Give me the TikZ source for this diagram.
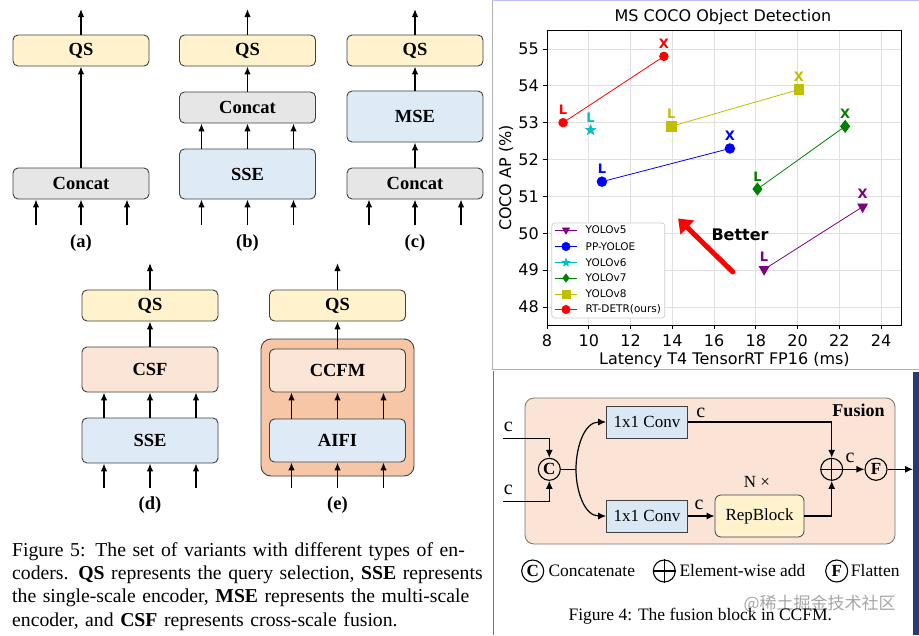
\documentclass[tikz,border=0pt]{standalone}
\usepackage{fontspec}
\setmainfont{Liberation Serif}
\newfontfamily\plotfont{DejaVu Sans}
\newfontfamily\cjkfont{Noto Sans CJK SC}
\usetikzlibrary{arrows.meta,positioning,calc,plotmarks}

\definecolor{qsfill}{HTML}{FFF2CC}
\definecolor{catfill}{HTML}{E7E6E6}
\definecolor{encfill}{HTML}{DEEBF7}
\definecolor{csffill}{HTML}{FBE5D6}
\definecolor{ccfmout}{HTML}{F6C6A6}
\definecolor{edge}{HTML}{404040}
\definecolor{convfill}{HTML}{DAE8F5}
\definecolor{fusefill}{HTML}{FBE4D6}
\definecolor{mplpurple}{HTML}{800080}
\definecolor{mplcyan}{HTML}{00BFBF}
\definecolor{mplgreen}{HTML}{008000}
\definecolor{mplolive}{HTML}{BFBF00}
\definecolor{panelnavy}{HTML}{1E3F7A}

\pgfdeclareplotmark{vdown}{%
  \pgfpathmoveto{\pgfqpoint{0pt}{-\pgfplotmarksize}}%
  \pgfpathlineto{\pgfqpoint{0.866\pgfplotmarksize}{0.5\pgfplotmarksize}}%
  \pgfpathlineto{\pgfqpoint{-0.866\pgfplotmarksize}{0.5\pgfplotmarksize}}%
  \pgfpathclose\pgfusepathqfillstroke}
\pgfdeclareplotmark{fstar}{%
  \pgfpathmoveto{\pgfpointpolar{90}{\pgfplotmarksize}}%
  \pgfpathlineto{\pgfpointpolar{126}{0.42\pgfplotmarksize}}%
  \pgfpathlineto{\pgfpointpolar{162}{\pgfplotmarksize}}%
  \pgfpathlineto{\pgfpointpolar{198}{0.42\pgfplotmarksize}}%
  \pgfpathlineto{\pgfpointpolar{234}{\pgfplotmarksize}}%
  \pgfpathlineto{\pgfpointpolar{270}{0.42\pgfplotmarksize}}%
  \pgfpathlineto{\pgfpointpolar{306}{\pgfplotmarksize}}%
  \pgfpathlineto{\pgfpointpolar{342}{0.42\pgfplotmarksize}}%
  \pgfpathlineto{\pgfpointpolar{18}{\pgfplotmarksize}}%
  \pgfpathlineto{\pgfpointpolar{54}{0.42\pgfplotmarksize}}%
  \pgfpathclose\pgfusepathqfillstroke}

\tikzset{
  blk/.style={draw=edge, line width=0.9pt, rounded corners=5pt, minimum width=136pt,
    inner sep=0pt, font=\bfseries\fontsize{18.5}{20}\selectfont},
  qsblk/.style={blk, fill=qsfill, minimum height=31pt},
  catblk/.style={blk, fill=catfill, minimum height=31pt},
  sseblk/.style={blk, fill=encfill},
  csfblk/.style={blk, fill=csffill},
  feed/.style={-{Latex[length=8pt,width=6.5pt]}, line width=1.4pt},
  sublabel/.style={font=\bfseries\fontsize{18.5}{20}\selectfont},
  convblk/.style={draw=edge, fill=convfill, line width=0.8pt, minimum width=81pt,
    minimum height=32pt, inner sep=0pt, font=\fontsize{17}{19}\selectfont},
  opcirc/.style={draw=black, circle, line width=1.1pt, minimum size=22pt, inner sep=0pt,
    font=\bfseries\fontsize{17}{19}\selectfont},
  fuseline/.style={-{Latex[length=8pt,width=7pt]}, line width=1.2pt},
  chan/.style={font=\fontsize{20}{22}\selectfont},
  legtext/.style={font=\fontsize{17.5}{19}\selectfont},
  ptlab/.style={font=\plotfont\bfseries\fontsize{13}{14}\selectfont, yshift=12.5pt},
  gridline/.style={black!12, line width=0.7pt},
}

\begin{document}
\begin{tikzpicture}[x=1pt, y=-1pt]
  \useasboundingbox (0,0) rectangle (919,635);
  \fill[white] (0,0) rectangle (919,635);

  % variant (a)
  \node[qsblk] (qsA) at (81,50.5) {QS};
  \node[catblk] (catA) at (81,183.5) {Concat};
  \coordinate (outA) at (81,9);
  \draw[feed] (catA) -- (qsA);
  \draw[feed] (qsA) -- (outA);
  \foreach \dx in {-45,0,46} {
    \coordinate (inA) at ($(catA.south)+(\dx,26)$);
    \draw[feed] (inA) -- (inA |- catA.south);
  }
  \node[sublabel] (labA) at (81,243) {(a)};

  % variant (b)
  \node[qsblk] (qsB) at (247.5,50.5) {QS};
  \node[catblk] (catB) at (247.5,107.5) {Concat};
  \node[sseblk, minimum height=50pt] (sseB) at (247.5,174) {SSE};
  \coordinate (outB) at (247.5,9);
  \draw[feed] (catB) -- (qsB);
  \draw[feed] (qsB) -- (outB);
  \foreach \dx in {-46,0,46} {
    \draw[feed] ([xshift=\dx pt]sseB.north) -- ([xshift=\dx pt]catB.south);
    \coordinate (inB) at ($(sseB.south)+(\dx,26)$);
    \draw[feed] (inB) -- (inB |- sseB.south);
  }
  \node[sublabel] (labB) at (247.5,243) {(b)};

  % variant (c)
  \node[qsblk] (qsC) at (415,50.5) {QS};
  \node[sseblk, minimum height=51pt] (mseC) at (415,116.5) {MSE};
  \node[catblk] (catC) at (415,183.5) {Concat};
  \coordinate (outC) at (415,9);
  \draw[feed] (catC) -- (mseC);
  \draw[feed] (mseC) -- (qsC);
  \draw[feed] (qsC) -- (outC);
  \foreach \dx in {-46,0,46} {
    \coordinate (inC) at ($(catC.south)+(\dx,26)$);
    \draw[feed] (inC) -- (inC |- catC.south);
  }
  \node[sublabel] (labC) at (415,243) {(c)};

  % variant (d)
  \node[qsblk] (qsD) at (150,305.5) {QS};
  \node[csfblk, minimum height=45pt] (csfD) at (150,369.5) {CSF};
  \node[sseblk, minimum height=45pt] (sseD) at (150,440.5) {SSE};
  \coordinate (outD) at (150,263);
  \draw[feed] (csfD) -- (qsD);
  \draw[feed] (qsD) -- (outD);
  \foreach \dx in {-46,0,46} {
    \draw[feed] ([xshift=\dx pt]sseD.north) -- ([xshift=\dx pt]csfD.south);
    \coordinate (inD) at ($(sseD.south)+(\dx,25)$);
    \draw[feed] (inD) -- (inD |- sseD.south);
  }
  \node[sublabel] (labD) at (150,505) {(d)};

  % variant (e)
  \node[draw=edge, fill=ccfmout, line width=0.9pt, rounded corners=10pt,
    minimum width=153pt, minimum height=137pt] (encE) at (337.5,407.5) {};
  \node[qsblk] (qsE) at (337.5,305.5) {QS};
  \node[csfblk, minimum height=43pt] (ccfmE) at (337.5,370.5) {CCFM};
  \node[sseblk, minimum height=43pt] (aifiE) at (337.5,440.5) {AIFI};
  \coordinate (outE) at (337.5,263);
  \draw[feed] (ccfmE) -- (qsE);
  \draw[feed] (qsE) -- (outE);
  \foreach \dx in {-46,0,46} {
    \draw[feed] ([xshift=\dx pt]aifiE.north) -- ([xshift=\dx pt]ccfmE.south);
    \coordinate (inE) at ($(aifiE.south)+(\dx,26)$);
    \draw[feed] (inE) -- (inE |- aifiE.south);
  }
  \node[sublabel] (labE) at (337.5,505) {(e)};

  \node[anchor=base west, inner sep=0pt, text width=471pt,
    font=\fontsize{19.7}{23.4}\selectfont] (capfive) at (12,556)
    {\makebox[471pt][s]{Figure 5: The set of variants with different types of en-}\\
     \makebox[471pt][s]{coders. \textbf{QS} represents the query selection, \textbf{SSE} represents}\\
     \makebox[471pt][s]{the single-scale encoder, \textbf{MSE} represents the multi-scale}\\
     encoder, and \textbf{CSF} represents cross-scale fusion.};

  % panel frames
  \draw[black!30, line width=1pt] (492,0) -- (492,369) -- (919,369);
  \draw[blue!25, line width=1pt] (492,0.5) -- (919,0.5);
  \draw[black!55, line width=1pt] (493,371) -- (493,635);
  \fill[panelnavy] (913,372) rectangle (919,635);

  % chart
  \begin{scope}[shift={(380,2076.1)}, x=20.875pt, y=36.857pt,
      font=\plotfont\fontsize{16}{18}\selectfont]
    \foreach \t in {8,10,...,24} \draw[gridline] (\t,47.5) -- (\t,55.5);
    \foreach \t in {48,...,55} \draw[gridline] (8,\t) -- (25,\t);
    \draw[line width=0.9pt] (8,47.5) rectangle (25,55.5);
    \foreach \t in {8,10,...,24} {
      \draw[line width=0.8pt] (\t,47.5) -- ++(0pt,-4pt);
      \node[yshift=-15pt] at (\t,47.5) {\t};
    }
    \foreach \t in {48,...,55} {
      \draw[line width=0.8pt] (8,\t) -- ++(-4pt,0pt);
      \node[anchor=east, inner sep=0pt, xshift=-8pt] at (8,\t) {\t};
    }
    \node[yshift=13pt] (title) at (16.43,55.5) {MS COCO Object Detection};
    \node[yshift=-34.5pt] (xlab) at (16.5,47.5) {Latency T4 TensorRT FP16 (ms)};
    \node[rotate=90] (ylab) at ([xshift=-41pt]8,51.5) {COCO AP (\%)};

    \draw[mplpurple, line width=0.8pt, mark=vdown, mark size=5.5pt] plot coordinates {(18.4,49.02) (23.12,50.72)};
    \draw[blue, line width=0.8pt, mark=*, mark size=4.8pt] plot coordinates {(10.63,51.4) (16.76,52.3)};
    \draw[mplcyan, mark=fstar, mark size=5.5pt] plot coordinates {(10.09,52.8)};
    \draw[mplgreen, line width=0.8pt, mark=diamond*, mark size=6pt] plot coordinates {(18.08,51.2) (22.28,52.9)};
    \draw[mplolive, line width=0.8pt, mark=square*, mark size=4.8pt] plot coordinates {(13.95,52.9) (20.07,53.9)};
    \draw[red, line width=0.8pt, mark=*, mark size=4.3pt] plot coordinates {(8.77,53.0) (13.6,54.8)};

    \node[ptlab, mplpurple] at (18.4,49.02) {L};
    \node[ptlab, mplpurple] at (23.12,50.72) {X};
    \node[ptlab, blue] at (10.63,51.4) {L};
    \node[ptlab, blue] at (16.76,52.3) {X};
    \node[ptlab, mplcyan] at (10.09,52.8) {L};
    \node[ptlab, mplgreen] at (18.08,51.2) {L};
    \node[ptlab, mplgreen] at (22.28,52.9) {X};
    \node[ptlab, mplolive] at (13.95,52.9) {L};
    \node[ptlab, mplolive] at (20.07,53.9) {X};
    \node[ptlab, red] at (8.77,53.0) {L};
    \node[ptlab, red] at (13.6,54.8) {X};

    \coordinate (better0) at (16.9,48.95);
    \coordinate (better1) at (14.28,50.4);
    \draw[red, line width=5pt, line cap=round, -{Triangle[length=13pt,width=19pt]}] (better0) -- (better1);
    \node[font=\plotfont\bfseries\fontsize{16}{18}\selectfont] (better) at (17.25,49.95) {Better};
  \end{scope}

  % chart legend
  \node[draw=black!20, fill=white, rounded corners=3pt, line width=0.7pt,
    minimum width=113pt, minimum height=95pt, inner sep=0pt] (legbox) at (608.3,270.5) {};
  \foreach \yy/\cc/\mk/\lbl in {230/mplpurple/vdown/YOLOv5, 246.5/blue/*/PP-YOLOE,
      262.5/mplcyan/fstar/YOLOv6, 278/mplgreen/diamond*/YOLOv7,
      294/mplolive/square*/YOLOv8, 309.5/red/*/RT-DETR(ours)} {
    \draw[\cc, line width=0.8pt] (555,\yy) -- (577,\yy);
    \draw[\cc, mark=\mk, mark size=4.3pt] plot coordinates {(566,\yy)};
    \node[anchor=west, inner sep=1pt, font=\plotfont\fontsize{10.5}{12}\selectfont] at (584.5,\yy) {\lbl};
  }

  % fusion block
  \node[draw=black!55, fill=fusefill, rounded corners=9pt, line width=0.8pt,
    minimum width=370pt, minimum height=146pt] (fusebox) at (710,471) {};
  \node[font=\bfseries\fontsize{18}{20}\selectfont] (fusetitle) at (858.5,410.7) {Fusion};
  \node[convblk] (conv1) at (647,422) {1x1 Conv};
  \node[convblk] (conv2) at (647,516) {1x1 Conv};
  \node[draw=edge, fill=qsfill, rounded corners=6pt, line width=0.8pt, minimum width=89pt,
    minimum height=42pt, inner sep=0pt, font=\fontsize{17}{19}\selectfont] (repblk) at (759.5,516) {RepBlock};
  \node[font=\fontsize{17}{19}\selectfont] (ntimes) at (757,481.7) {N ×};
  \node[opcirc] (catop) at (549.3,469.3) {C};
  \node[opcirc] (addop) at (831.7,469.3) {};
  \draw[line width=1.1pt] (addop.north) -- (addop.south) (addop.west) -- (addop.east);
  \node[opcirc] (flatop) at (876,469.3) {F};
  \coordinate (inup) at (503,438.3);
  \coordinate (indown) at (503,501.7);
  \coordinate (split) at (576,469.3);
  \coordinate (fuseout) at (913,469.3);
  \draw[fuseline] (inup) -| (catop);
  \draw[fuseline] (indown) -| (catop);
  \draw[line width=1.2pt] (catop) -- (split);
  \draw[fuseline] (split) to[out=90,in=180] (conv1);
  \draw[fuseline] (split) to[out=-90,in=180] (conv2);
  \draw[fuseline] (conv1) -| (addop);
  \draw[fuseline] (conv2) -- (repblk);
  \draw[fuseline] (repblk) -| (addop);
  \draw[fuseline] (addop) -- (flatop);
  \draw[fuseline] (flatop) -- (fuseout);
  \node[chan] at (508.3,426.7) {c};
  \node[chan] at (508.3,490) {c};
  \node[chan] at (700.7,412.7) {c};
  \node[chan] at (699,505) {c};
  \node[chan] at (850,458) {c};

  % fusion legend
  \node[opcirc] (legcat) at (532.7,571) {C};
  \node[legtext, anchor=west] (legcattext) at (545,571) {Concatenate};
  \node[opcirc] (legadd) at (664.3,571) {};
  \draw[line width=1.1pt] (legadd.north) -- (legadd.south) (legadd.west) -- (legadd.east);
  \node[legtext, anchor=west] (legaddtext) at (676,571) {Element-wise add};
  \node[opcirc] (legflat) at (836.7,571) {F};
  \node[legtext, anchor=west] (legflattext) at (847.4,571) {Flatten};

  \node[anchor=west, text=black!35, font=\cjkfont\fontsize{17}{19}\selectfont] (mark) at (740,604) {@稀土掘金技术社区};
  \node[legtext, anchor=west] (capfour) at (565,616.7) {Figure 4: The fusion block in CCFM.};
\end{tikzpicture}
\end{document}
